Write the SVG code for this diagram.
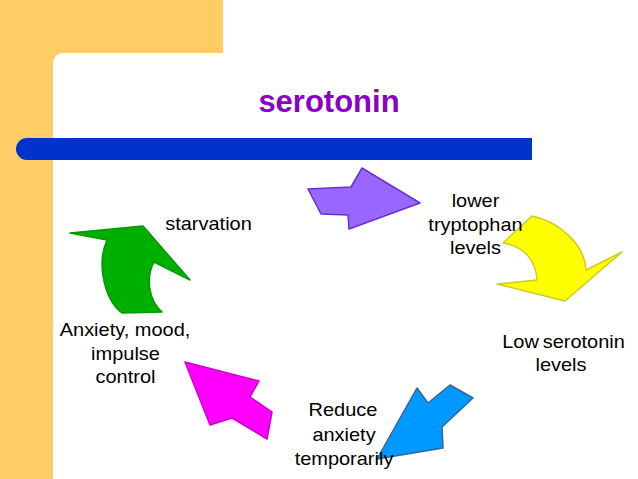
<svg xmlns="http://www.w3.org/2000/svg" width="638" height="479" viewBox="0 0 638 479">
<style>
.t{font-family:"Liberation Sans",Arial,sans-serif;font-size:18px;fill:#000;text-anchor:middle}
.ttl{font-family:"Liberation Sans",Arial,sans-serif;font-size:31px;font-weight:bold;fill:#8A00C6;text-anchor:middle}
.ar{stroke-width:1.5;stroke-linejoin:round}
</style>
<rect width="638" height="479" fill="#FFFFFF"/>
<path d="M0,0 H223 V53 H63 A10,10 0 0 0 53,63 V479 H0 Z" fill="#FFCC66"/>
<path d="M27,138 H532 V160 H27 A11,11 0 0 1 27,138 Z" fill="#0033CC"/>
<text class="ttl" x="329" y="112">serotonin</text>
<g id="connectors">
<g id="arrow-purple"><path class="ar" d="M308,189 L351,187 L362,168 L420,203 L349,229 L348,215 L321,214 Z" fill="#9966FF" stroke="#6633CC"/></g>
<g id="arrow-yellow"><path class="ar" d="M532,216 C560,222 585,245 586,270 L622,252 L565,301 L497,284 L537,280 C536,262 525,246 503,243 Z" fill="#FFFF00" stroke="#CCCC22"/></g>
<g id="arrow-blue"><path class="ar" d="M377,459 L417,388 L428,403 L450,385 L473,398 L442,427 L443,448 Z" fill="#0099FF" stroke="#336699"/></g>
<g id="arrow-magenta"><path class="ar" d="M185,362 L259,381 L250,397 L272,412 L267,439 L232,418 L210,425 Z" fill="#FF00FF" stroke="#CC00CC"/></g>
<g id="arrow-green"><path class="ar" d="M70,233 L143,226 L190,280 L154,262 C146,277 148,300 162,312 L122,313 C105,300 96,265 107,240 Z" fill="#00B000" stroke="#009900"/></g>
</g>
<g id="node-starvation"><text class="t" transform="translate(208.5,230) scale(1.11,1)" x="0" y="0">starvation</text></g>
<g id="node-tryptophan">
<text class="t" transform="translate(475.5,206.5) scale(1.11,1)">lower</text>
<text class="t" transform="translate(475.5,230.5) scale(1.11,1)">tryptophan</text>
<text class="t" transform="translate(475.5,254) scale(1.11,1)">levels</text>
</g>
<g id="node-low-serotonin">
<text class="t" transform="translate(563.5,348) scale(1.11,1)" word-spacing="-1.5">Low serotonin</text>
<text class="t" transform="translate(561,371) scale(1.11,1)">levels</text>
</g>
<g id="node-reduce">
<text class="t" transform="translate(343,416) scale(1.11,1)">Reduce</text>
<text class="t" transform="translate(344,441) scale(1.11,1)">anxiety</text>
<text class="t" transform="translate(344,465) scale(1.11,1)">temporarily</text>
</g>
<g id="node-anxiety">
<text class="t" transform="translate(125,336) scale(1.11,1)">Anxiety, mood,</text>
<text class="t" transform="translate(125.5,359.5) scale(1.11,1)">impulse</text>
<text class="t" transform="translate(125.5,383) scale(1.11,1)">control</text>
</g>
</svg>
